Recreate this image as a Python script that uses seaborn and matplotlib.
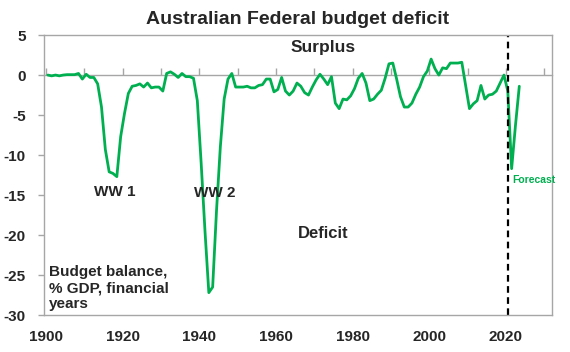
import numpy as np
import pandas as pd
import matplotlib
matplotlib.use("Agg")
import matplotlib.pyplot as plt
import seaborn as sns

# Budget balance, % of GDP, by financial year (start year)
start_years = list(range(1900, 2024))
balance = [
    0.0, -0.1, 0.0, -0.1, 0.0, 0.05, 0.05, 0.05, 0.2, -0.5,          # 1900s
    0.1, -0.3, -0.3, -1.1, -4.0, -9.3, -12.1, -12.3, -12.7, -7.7,     # 1910s
    -4.8, -2.3, -1.4, -1.3, -1.1, -1.5, -1.0, -1.6, -1.5, -1.5,       # 1920s
    -2.0, 0.2, 0.4, 0.1, -0.3, 0.2, -0.2, -0.2, -0.4, -3.2,           # 1930s
    -11.0, -19.5, -27.2, -26.5, -17.0, -9.0, -3.0, -0.5, 0.2, -1.5,   # 1940s
    -1.5, -1.5, -1.4, -1.6, -1.6, -1.3, -1.2, -0.5, -0.5, -2.1,       # 1950s
    -1.8, -0.3, -2.0, -2.5, -2.0, -1.0, -1.4, -2.2, -2.5, -1.5,       # 1960s
    -0.6, 0.1, -0.5, -1.2, -0.2, -3.5, -4.2, -3.0, -3.1, -2.6,        # 1970s
    -1.7, -0.4, 0.2, -1.0, -3.2, -3.0, -2.4, -1.9, -0.4, 1.4,         # 1980s
    1.5, -0.5, -2.7, -4.0, -4.0, -3.5, -2.4, -1.5, -0.2, 0.5,         # 1990s
    2.0, 0.8, 0.0, 0.9, 0.8, 1.5, 1.5, 1.5, 1.6, -1.3,                # 2000s
    -4.2, -3.6, -3.2, -1.3, -3.0, -2.5, -2.4, -2.0, -1.0, 0.0,        # 2010s
    -2.0, -11.7, -6.3, -1.4,                                          # 2020s (forecast)
]
forecast_start = 2020.5

x_labels = list(range(1900, 2021, 20))
x_minor = list(range(1900, 2031, 10))
y_ticks = list(range(-30, 6, 5))

green = "#00B050"
grey = "#A6A6A6"

df = pd.DataFrame({"year": np.array(start_years) + 0.5, "balance": balance})

sns.set_theme(style="white")
plt.rcParams["font.family"] = ["Liberation Sans", "DejaVu Sans"]
plt.rcParams["font.weight"] = "bold"
plt.rcParams["axes.unicode_minus"] = False

fig = plt.figure(figsize=(5.7, 3.52), dpi=100)
ax = fig.add_axes([0.0772, 0.105, 0.891, 0.7954])

sns.lineplot(data=df, x="year", y="balance", color=green, linewidth=2.0, ax=ax)
ax.axvline(forecast_start, color="black", linewidth=1.6, linestyle=(0, (3, 2)))

ax.set_xlim(1899.5, 2032)
ax.set_ylim(-30, 5)
ax.set_xticks(x_labels)
ax.set_yticks(y_ticks)
ax.tick_params(axis="x", length=0, pad=11, labelsize=11)
ax.tick_params(axis="y", length=4, width=1, color=grey, direction="out", pad=9, labelsize=11, left=True)
for lab in ax.get_xticklabels() + ax.get_yticklabels():
    lab.set_fontweight("bold")
ax.set_xlabel("")
ax.set_ylabel("")
for sp in ax.spines.values():
    sp.set_color(grey)
    sp.set_linewidth(1)

# zero line with decade tick marks pointing up
zero_ax = ax.secondary_xaxis(0, transform=ax.transData)
zero_ax.set_xticks(x_minor)
zero_ax.tick_params(direction="in", length=5, width=1, color=grey, labelbottom=False)
zero_ax.spines["bottom"].set_color(grey)
zero_ax.spines["bottom"].set_linewidth(1)

ax.set_title("Australian Federal budget deficit", fontsize=14, fontweight="bold", pad=8)
ax.text(1972.3, 3.4, "Surplus", fontsize=12.5, fontweight="bold", ha="center", va="center")
ax.text(1972.3, -19.75, "Deficit", fontsize=12, fontweight="bold", ha="center", va="center")
ax.text(1918, -14.6, "WW 1", fontsize=11, fontweight="bold", ha="center", va="center")
ax.text(1944.1, -14.8, "WW 2", fontsize=11, fontweight="bold", ha="center", va="center")
ax.text(1900.9, -23.8, "Budget balance,\n% GDP, financial\nyears", fontsize=11,
        fontweight="bold", ha="left", va="top", linespacing=1.15)
ax.text(2021.6, -13.1, "Forecast", fontsize=7.5, fontweight="bold", color=green,
        ha="left", va="center")

fig.savefig("out.png", dpi=100)
